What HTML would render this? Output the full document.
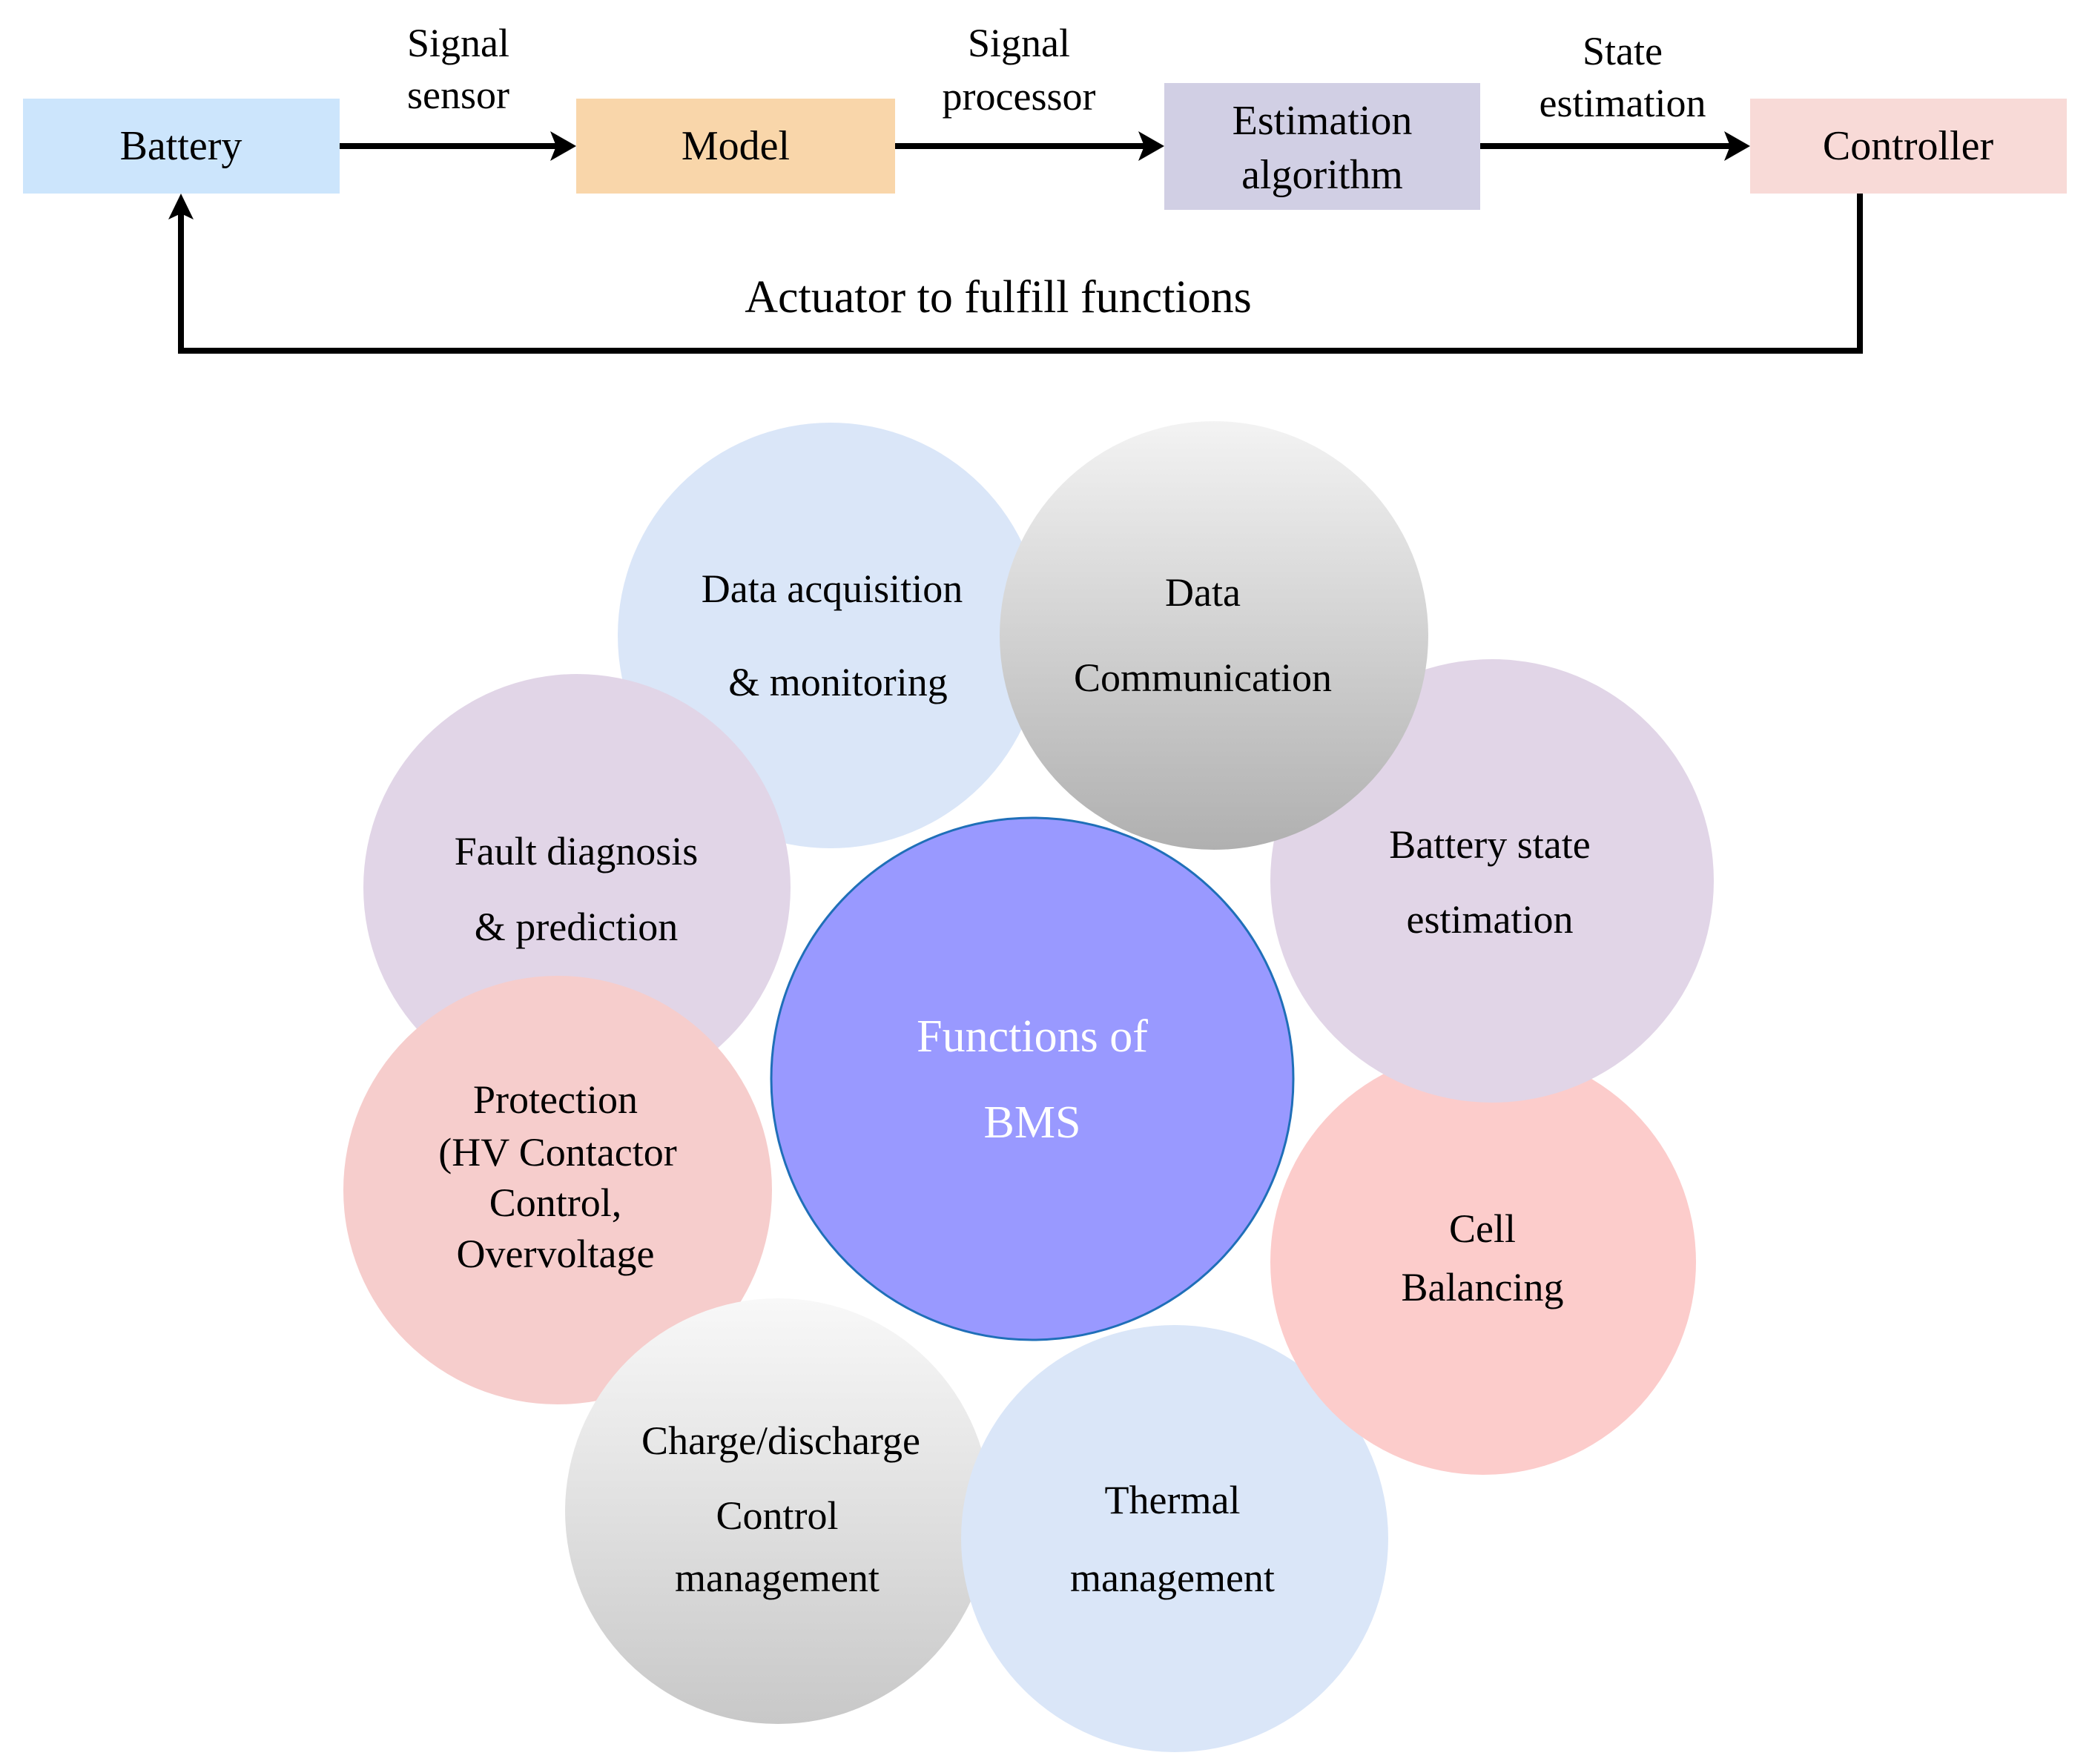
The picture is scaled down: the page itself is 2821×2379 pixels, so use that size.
<!DOCTYPE html>
<html><head><meta charset="utf-8"><style>
html,body{margin:0;padding:0;background:#fff}
svg{display:block}
text{font-family:"Liberation Serif",serif;fill:#000;text-anchor:middle;dominant-baseline:central}
</style></head><body>
<svg width="2821" height="2379" viewBox="0 0 2821 2379" xmlns="http://www.w3.org/2000/svg">
<defs>
<linearGradient id="g1" x1="0" y1="0" x2="0" y2="1"><stop offset="0" stop-color="#f3f3f3"/><stop offset="1" stop-color="#b0b0b0"/></linearGradient>
<linearGradient id="g2" x1="0" y1="0" x2="0" y2="1"><stop offset="0" stop-color="#f8f8f8"/><stop offset="1" stop-color="#c8c8c8"/></linearGradient>
</defs>
<!-- top flow -->
<rect x="31" y="133" width="427" height="128" fill="#cce5fc"/>
<rect x="777" y="133" width="430" height="128" fill="#f9d6aa"/>
<rect x="1570" y="112" width="426" height="171" fill="#d1cfe4"/>
<rect x="2360" y="133" width="427" height="128" fill="#f8dad7"/>
<text x="244" y="197" font-size="56">Battery</text>
<text x="992" y="197" font-size="56">Model</text>
<text x="1783" y="163" font-size="56">Estimation</text>
<text x="1783" y="236" font-size="56">algorithm</text>
<text x="2573" y="197" font-size="56">Controller</text>
<text x="618" y="58" font-size="54">Signal</text>
<text x="618" y="128" font-size="54">sensor</text>
<text x="1374" y="58" font-size="54">Signal</text>
<text x="1374" y="130" font-size="54">processor</text>
<text x="2188" y="69" font-size="54">State</text>
<text x="2188" y="139" font-size="54">estimation</text>
<g stroke="#000" stroke-width="8" fill="none">
<line x1="458" y1="197" x2="750" y2="197"/>
<line x1="1207" y1="197" x2="1545" y2="197"/>
<line x1="1996" y1="197" x2="2335" y2="197"/>
<polyline points="2508,261 2508,473 244,473 244,288"/>
</g>
<g fill="#000">
<path d="M777,197 L742,177 L750,197 L742,217 Z"/>
<path d="M1570,197 L1535,177 L1543,197 L1535,217 Z"/>
<path d="M2360,197 L2325,177 L2333,197 L2325,217 Z"/>
<path d="M244,261 L227,296 L244,288 L261,296 Z"/>
</g>
<text x="1346" y="401" font-size="62">Actuator to fulfill functions</text>
<!-- circles -->
<circle cx="1120" cy="857" r="287" fill="#dae6f8"/>
<circle cx="778" cy="1197" r="288" fill="#e1d5e7"/>
<circle cx="752" cy="1605" r="289" fill="#f6cdcc"/>
<circle cx="1049" cy="2038" r="287" fill="url(#g2)"/>
<circle cx="1584" cy="2075" r="288" fill="#dae6f8"/>
<circle cx="2000" cy="1702" r="287" fill="#fccccb"/>
<circle cx="2012" cy="1188" r="299" fill="#e1d5e7"/>
<circle cx="1637" cy="857" r="289" fill="url(#g1)"/>
<circle cx="1392" cy="1455" r="352" fill="#9999ff" stroke="#1f6fb8" stroke-width="3"/>
<g font-size="54">
<text x="1122" y="794">Data acquisition</text>
<text x="1130" y="920">&amp; monitoring</text>
<text x="1622" y="799">Data</text>
<text x="1622" y="914">Communication</text>
<text x="2009" y="1139">Battery state</text>
<text x="2009" y="1240">estimation</text>
<text x="1999" y="1657">Cell</text>
<text x="1999" y="1736">Balancing</text>
<text x="1581" y="2023">Thermal</text>
<text x="1581" y="2128">management</text>
<text x="1053" y="1943">Charge/discharge</text>
<text x="1048" y="2044">Control</text>
<text x="1048" y="2128">management</text>
<text x="749" y="1483">Protection</text>
<text x="752" y="1554">(HV Contactor</text>
<text x="749" y="1622">Control,</text>
<text x="749" y="1691">Overvoltage</text>
<text x="777" y="1148">Fault diagnosis</text>
<text x="777" y="1250">&amp; prediction</text>
</g>
<text x="1392" y="1398" font-size="62" style="fill:#fff">Functions of</text>
<text x="1392" y="1514" font-size="62" style="fill:#fff">BMS</text>
</svg>
</body></html>
